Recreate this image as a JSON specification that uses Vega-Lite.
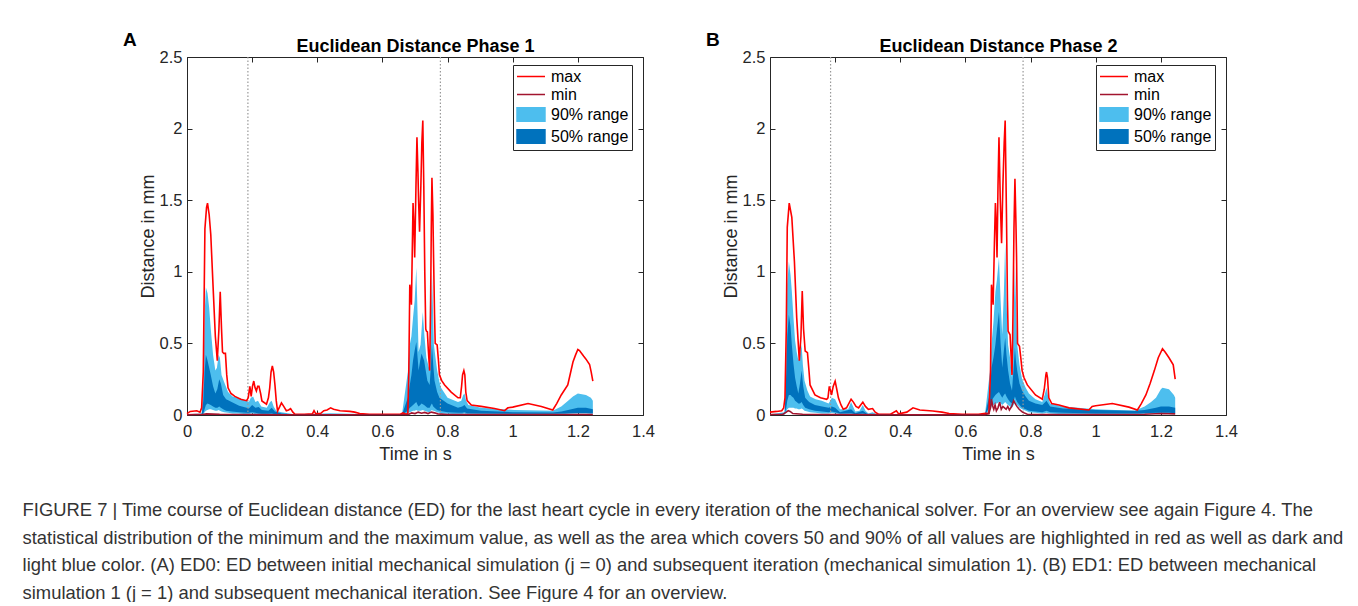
{
"$schema":"https://vega.github.io/schema/vega-lite/v6.json",
"background":"white",
"padding":{"left":22,"top":30,"right":5,"bottom":0},
"title":{"text":["FIGURE 7 | Time course of Euclidean distance (ED) for the last heart cycle in every iteration of the mechanical solver. For an overview see again Figure 4. The","statistical distribution of the minimum and the maximum value, as well as the area which covers 50 and 90% of all values are highlighted in red as well as dark and","light blue color. (A) ED0: ED between initial mechanical simulation (j = 0) and subsequent iteration (mechanical simulation 1). (B) ED1: ED between mechanical","simulation 1 (j = 1) and subsequent mechanical iteration. See Figure 4 for an overview."],"orient":"bottom","anchor":"start","frame":"bounds","dx":-100,"offset":37,"fontSize":18.4,"font":"Liberation Sans","fontWeight":"normal","color":"#333333","lineHeight":27.5},
"datasets":{
"A":[
{"s":"v","t":0.187},{"s":"v","t":0.778},
{"s":"max","t":0,"v":0.01},{"s":"max","t":0.01,"v":0.025},{"s":"max","t":0.03,"v":0.03},{"s":"max","t":0.04,"v":0.02},{"s":"max","t":0.045,"v":0.05},{"s":"max","t":0.05,"v":0.3},{"s":"max","t":0.055,"v":1.3},{"s":"max","t":0.06,"v":1.45},{"s":"max","t":0.063,"v":1.48},{"s":"max","t":0.068,"v":1.4},{"s":"max","t":0.073,"v":1.26},{"s":"max","t":0.08,"v":0.9},{"s":"max","t":0.087,"v":0.55},{"s":"max","t":0.093,"v":0.38},{"s":"max","t":0.098,"v":0.6},{"s":"max","t":0.102,"v":0.86},{"s":"max","t":0.106,"v":0.6},{"s":"max","t":0.109,"v":0.44},{"s":"max","t":0.113,"v":0.43},{"s":"max","t":0.118,"v":0.43},{"s":"max","t":0.122,"v":0.28},{"s":"max","t":0.126,"v":0.19},{"s":"max","t":0.135,"v":0.15},{"s":"max","t":0.147,"v":0.13},{"s":"max","t":0.165,"v":0.11},{"s":"max","t":0.183,"v":0.1},{"s":"max","t":0.188,"v":0.12},{"s":"max","t":0.193,"v":0.2},{"s":"max","t":0.197,"v":0.13},{"s":"max","t":0.201,"v":0.2},{"s":"max","t":0.205,"v":0.237},{"s":"max","t":0.209,"v":0.19},{"s":"max","t":0.213,"v":0.167},{"s":"max","t":0.217,"v":0.2},{"s":"max","t":0.221,"v":0.2},{"s":"max","t":0.226,"v":0.15},{"s":"max","t":0.23,"v":0.098},{"s":"max","t":0.244,"v":0.075},{"s":"max","t":0.25,"v":0.12},{"s":"max","t":0.254,"v":0.19},{"s":"max","t":0.258,"v":0.3},{"s":"max","t":0.262,"v":0.342},{"s":"max","t":0.266,"v":0.3},{"s":"max","t":0.27,"v":0.21},{"s":"max","t":0.274,"v":0.1},{"s":"max","t":0.278,"v":0.027},{"s":"max","t":0.285,"v":0.06},{"s":"max","t":0.29,"v":0.085},{"s":"max","t":0.297,"v":0.06},{"s":"max","t":0.305,"v":0.03},{"s":"max","t":0.312,"v":0.035},{"s":"max","t":0.318,"v":0.045},{"s":"max","t":0.325,"v":0.02},{"s":"max","t":0.331,"v":0.007},{"s":"max","t":0.36,"v":0.005},{"s":"max","t":0.385,"v":0.008},{"s":"max","t":0.39,"v":0.03},{"s":"max","t":0.395,"v":0.01},{"s":"max","t":0.41,"v":0.01},{"s":"max","t":0.42,"v":0.03},{"s":"max","t":0.43,"v":0.035},{"s":"max","t":0.441,"v":0.05},{"s":"max","t":0.45,"v":0.04},{"s":"max","t":0.47,"v":0.03},{"s":"max","t":0.5,"v":0.025},{"s":"max","t":0.515,"v":0.02},{"s":"max","t":0.53,"v":0.01},{"s":"max","t":0.56,"v":0.005},{"s":"max","t":0.62,"v":0.005},{"s":"max","t":0.655,"v":0.005},{"s":"max","t":0.663,"v":0.015},{"s":"max","t":0.672,"v":0.005},{"s":"max","t":0.678,"v":0.01},{"s":"max","t":0.681,"v":0.3},{"s":"max","t":0.684,"v":0.91},{"s":"max","t":0.687,"v":0.85},{"s":"max","t":0.689,"v":0.77},{"s":"max","t":0.692,"v":1.2},{"s":"max","t":0.694,"v":1.48},{"s":"max","t":0.697,"v":1.3},{"s":"max","t":0.699,"v":1.1},{"s":"max","t":0.703,"v":1.6},{"s":"max","t":0.706,"v":1.94},{"s":"max","t":0.709,"v":1.7},{"s":"max","t":0.711,"v":1.5},{"s":"max","t":0.714,"v":1.28},{"s":"max","t":0.718,"v":1.6},{"s":"max","t":0.721,"v":1.9},{"s":"max","t":0.724,"v":2.056},{"s":"max","t":0.727,"v":1.6},{"s":"max","t":0.73,"v":1.0},{"s":"max","t":0.733,"v":0.6},{"s":"max","t":0.735,"v":0.586},{"s":"max","t":0.738,"v":0.58},{"s":"max","t":0.741,"v":0.45},{"s":"max","t":0.745,"v":0.31},{"s":"max","t":0.748,"v":0.8},{"s":"max","t":0.75,"v":1.3},{"s":"max","t":0.752,"v":1.656},{"s":"max","t":0.755,"v":1.4},{"s":"max","t":0.757,"v":1.1},{"s":"max","t":0.76,"v":0.7},{"s":"max","t":0.762,"v":0.5},{"s":"max","t":0.768,"v":0.49},{"s":"max","t":0.772,"v":0.38},{"s":"max","t":0.775,"v":0.28},{"s":"max","t":0.782,"v":0.24},{"s":"max","t":0.791,"v":0.21},{"s":"max","t":0.811,"v":0.16},{"s":"max","t":0.832,"v":0.12},{"s":"max","t":0.839,"v":0.12},{"s":"max","t":0.843,"v":0.2},{"s":"max","t":0.846,"v":0.28},{"s":"max","t":0.85,"v":0.31},{"s":"max","t":0.853,"v":0.28},{"s":"max","t":0.856,"v":0.16},{"s":"max","t":0.86,"v":0.1},{"s":"max","t":0.873,"v":0.07},{"s":"max","t":0.903,"v":0.06},{"s":"max","t":0.944,"v":0.045},{"s":"max","t":0.975,"v":0.03},{"s":"max","t":0.985,"v":0.05},{"s":"max","t":1.0,"v":0.055},{"s":"max","t":1.047,"v":0.08},{"s":"max","t":1.088,"v":0.06},{"s":"max","t":1.123,"v":0.035},{"s":"max","t":1.135,"v":0.08},{"s":"max","t":1.149,"v":0.14},{"s":"max","t":1.169,"v":0.21},{"s":"max","t":1.177,"v":0.29},{"s":"max","t":1.185,"v":0.37},{"s":"max","t":1.193,"v":0.42},{"s":"max","t":1.2,"v":0.458},{"s":"max","t":1.205,"v":0.45},{"s":"max","t":1.21,"v":0.435},{"s":"max","t":1.218,"v":0.41},{"s":"max","t":1.225,"v":0.39},{"s":"max","t":1.236,"v":0.353},{"s":"max","t":1.241,"v":0.3},{"s":"max","t":1.246,"v":0.237},
{"s":"min","t":0,"v":0.002},{"s":"min","t":0.05,"v":0.005},{"s":"min","t":0.06,"v":0.008},{"s":"min","t":0.1,"v":0.005},{"s":"min","t":0.2,"v":0.003},{"s":"min","t":0.3,"v":0.002},{"s":"min","t":0.5,"v":0.002},{"s":"min","t":0.68,"v":0.003},{"s":"min","t":0.69,"v":0.015},{"s":"min","t":0.7,"v":0.01},{"s":"min","t":0.71,"v":0.02},{"s":"min","t":0.72,"v":0.012},{"s":"min","t":0.73,"v":0.018},{"s":"min","t":0.74,"v":0.01},{"s":"min","t":0.75,"v":0.02},{"s":"min","t":0.76,"v":0.015},{"s":"min","t":0.77,"v":0.008},{"s":"min","t":0.8,"v":0.004},{"s":"min","t":1.0,"v":0.003},{"s":"min","t":1.2,"v":0.004},{"s":"min","t":1.246,"v":0.004},
{"s":"90% range","t":0,"lo":0,"hi":0.005},{"s":"90% range","t":0.045,"lo":0,"hi":0.01},{"s":"90% range","t":0.05,"lo":0.005,"hi":0.2},{"s":"90% range","t":0.054,"lo":0.02,"hi":0.7},{"s":"90% range","t":0.058,"lo":0.03,"hi":0.89},{"s":"90% range","t":0.063,"lo":0.035,"hi":0.85},{"s":"90% range","t":0.068,"lo":0.04,"hi":0.75},{"s":"90% range","t":0.073,"lo":0.04,"hi":0.6},{"s":"90% range","t":0.08,"lo":0.035,"hi":0.42},{"s":"90% range","t":0.087,"lo":0.03,"hi":0.31},{"s":"90% range","t":0.092,"lo":0.03,"hi":0.33},{"s":"90% range","t":0.097,"lo":0.035,"hi":0.42},{"s":"90% range","t":0.101,"lo":0.03,"hi":0.4},{"s":"90% range","t":0.106,"lo":0.025,"hi":0.28},{"s":"90% range","t":0.114,"lo":0.02,"hi":0.23},{"s":"90% range","t":0.126,"lo":0.015,"hi":0.16},{"s":"90% range","t":0.14,"lo":0.01,"hi":0.13},{"s":"90% range","t":0.157,"lo":0.01,"hi":0.12},{"s":"90% range","t":0.183,"lo":0.005,"hi":0.1},{"s":"90% range","t":0.19,"lo":0.005,"hi":0.09},{"s":"90% range","t":0.196,"lo":0.01,"hi":0.12},{"s":"90% range","t":0.203,"lo":0.01,"hi":0.13},{"s":"90% range","t":0.21,"lo":0.005,"hi":0.09},{"s":"90% range","t":0.218,"lo":0.005,"hi":0.1},{"s":"90% range","t":0.228,"lo":0.003,"hi":0.06},{"s":"90% range","t":0.245,"lo":0.003,"hi":0.05},{"s":"90% range","t":0.255,"lo":0.005,"hi":0.09},{"s":"90% range","t":0.26,"lo":0.005,"hi":0.1},{"s":"90% range","t":0.266,"lo":0.003,"hi":0.06},{"s":"90% range","t":0.274,"lo":0.002,"hi":0.03},{"s":"90% range","t":0.29,"lo":0.002,"hi":0.02},{"s":"90% range","t":0.3,"lo":0.001,"hi":0.015},{"s":"90% range","t":0.33,"lo":0,"hi":0.005},{"s":"90% range","t":0.39,"lo":0,"hi":0.008},{"s":"90% range","t":0.44,"lo":0,"hi":0.012},{"s":"90% range","t":0.5,"lo":0,"hi":0.008},{"s":"90% range","t":0.66,"lo":0,"hi":0.003},{"s":"90% range","t":0.678,"lo":0.01,"hi":0.3},{"s":"90% range","t":0.684,"lo":0.02,"hi":0.49},{"s":"90% range","t":0.689,"lo":0.025,"hi":0.55},{"s":"90% range","t":0.694,"lo":0.03,"hi":0.68},{"s":"90% range","t":0.699,"lo":0.03,"hi":0.8},{"s":"90% range","t":0.704,"lo":0.035,"hi":1.03},{"s":"90% range","t":0.708,"lo":0.03,"hi":0.7},{"s":"90% range","t":0.711,"lo":0.03,"hi":0.44},{"s":"90% range","t":0.717,"lo":0.03,"hi":0.49},{"s":"90% range","t":0.724,"lo":0.035,"hi":0.72},{"s":"90% range","t":0.729,"lo":0.03,"hi":0.55},{"s":"90% range","t":0.735,"lo":0.025,"hi":0.4},{"s":"90% range","t":0.745,"lo":0.02,"hi":0.31},{"s":"90% range","t":0.749,"lo":0.03,"hi":0.7},{"s":"90% range","t":0.752,"lo":0.035,"hi":1.0},{"s":"90% range","t":0.755,"lo":0.03,"hi":0.75},{"s":"90% range","t":0.758,"lo":0.03,"hi":0.49},{"s":"90% range","t":0.763,"lo":0.025,"hi":0.4},{"s":"90% range","t":0.768,"lo":0.02,"hi":0.31},{"s":"90% range","t":0.775,"lo":0.015,"hi":0.23},{"s":"90% range","t":0.78,"lo":0.01,"hi":0.19},{"s":"90% range","t":0.8,"lo":0.008,"hi":0.12},{"s":"90% range","t":0.832,"lo":0.006,"hi":0.09},{"s":"90% range","t":0.842,"lo":0.006,"hi":0.1},{"s":"90% range","t":0.848,"lo":0.008,"hi":0.14},{"s":"90% range","t":0.852,"lo":0.01,"hi":0.15},{"s":"90% range","t":0.857,"lo":0.006,"hi":0.1},{"s":"90% range","t":0.864,"lo":0.005,"hi":0.07},{"s":"90% range","t":0.903,"lo":0.004,"hi":0.05},{"s":"90% range","t":1.005,"lo":0.003,"hi":0.035},{"s":"90% range","t":1.123,"lo":0.003,"hi":0.03},{"s":"90% range","t":1.149,"lo":0.005,"hi":0.06},{"s":"90% range","t":1.17,"lo":0.008,"hi":0.1},{"s":"90% range","t":1.185,"lo":0.01,"hi":0.13},{"s":"90% range","t":1.2,"lo":0.012,"hi":0.15},{"s":"90% range","t":1.225,"lo":0.012,"hi":0.14},{"s":"90% range","t":1.24,"lo":0.01,"hi":0.12},{"s":"90% range","t":1.246,"lo":0.01,"hi":0.1},
{"s":"50% range","t":0,"lo":0,"hi":0.002},{"s":"50% range","t":0.045,"lo":0.002,"hi":0.005},{"s":"50% range","t":0.05,"lo":0.01,"hi":0.1},{"s":"50% range","t":0.054,"lo":0.04,"hi":0.3},{"s":"50% range","t":0.058,"lo":0.07,"hi":0.42},{"s":"50% range","t":0.063,"lo":0.08,"hi":0.38},{"s":"50% range","t":0.068,"lo":0.075,"hi":0.33},{"s":"50% range","t":0.073,"lo":0.07,"hi":0.28},{"s":"50% range","t":0.08,"lo":0.06,"hi":0.2},{"s":"50% range","t":0.087,"lo":0.05,"hi":0.15},{"s":"50% range","t":0.093,"lo":0.05,"hi":0.18},{"s":"50% range","t":0.099,"lo":0.06,"hi":0.25},{"s":"50% range","t":0.104,"lo":0.05,"hi":0.22},{"s":"50% range","t":0.111,"lo":0.04,"hi":0.14},{"s":"50% range","t":0.12,"lo":0.03,"hi":0.11},{"s":"50% range","t":0.137,"lo":0.025,"hi":0.09},{"s":"50% range","t":0.16,"lo":0.02,"hi":0.065},{"s":"50% range","t":0.183,"lo":0.015,"hi":0.05},{"s":"50% range","t":0.19,"lo":0.015,"hi":0.045},{"s":"50% range","t":0.2,"lo":0.02,"hi":0.07},{"s":"50% range","t":0.21,"lo":0.015,"hi":0.05},{"s":"50% range","t":0.22,"lo":0.01,"hi":0.055},{"s":"50% range","t":0.23,"lo":0.008,"hi":0.035},{"s":"50% range","t":0.25,"lo":0.008,"hi":0.03},{"s":"50% range","t":0.26,"lo":0.01,"hi":0.05},{"s":"50% range","t":0.27,"lo":0.005,"hi":0.025},{"s":"50% range","t":0.29,"lo":0.003,"hi":0.01},{"s":"50% range","t":0.33,"lo":0.001,"hi":0.003},{"s":"50% range","t":0.66,"lo":0.001,"hi":0.002},{"s":"50% range","t":0.678,"lo":0.03,"hi":0.12},{"s":"50% range","t":0.684,"lo":0.05,"hi":0.21},{"s":"50% range","t":0.689,"lo":0.06,"hi":0.28},{"s":"50% range","t":0.694,"lo":0.07,"hi":0.38},{"s":"50% range","t":0.699,"lo":0.08,"hi":0.45},{"s":"50% range","t":0.704,"lo":0.09,"hi":0.51},{"s":"50% range","t":0.708,"lo":0.07,"hi":0.4},{"s":"50% range","t":0.711,"lo":0.06,"hi":0.31},{"s":"50% range","t":0.716,"lo":0.07,"hi":0.38},{"s":"50% range","t":0.72,"lo":0.08,"hi":0.43},{"s":"50% range","t":0.728,"lo":0.07,"hi":0.38},{"s":"50% range","t":0.738,"lo":0.05,"hi":0.24},{"s":"50% range","t":0.745,"lo":0.05,"hi":0.21},{"s":"50% range","t":0.749,"lo":0.07,"hi":0.35},{"s":"50% range","t":0.752,"lo":0.08,"hi":0.49},{"s":"50% range","t":0.756,"lo":0.06,"hi":0.35},{"s":"50% range","t":0.76,"lo":0.05,"hi":0.24},{"s":"50% range","t":0.768,"lo":0.035,"hi":0.16},{"s":"50% range","t":0.775,"lo":0.03,"hi":0.12},{"s":"50% range","t":0.8,"lo":0.02,"hi":0.08},{"s":"50% range","t":0.832,"lo":0.015,"hi":0.05},{"s":"50% range","t":0.845,"lo":0.015,"hi":0.06},{"s":"50% range","t":0.852,"lo":0.02,"hi":0.07},{"s":"50% range","t":0.86,"lo":0.012,"hi":0.045},{"s":"50% range","t":0.903,"lo":0.01,"hi":0.03},{"s":"50% range","t":1.0,"lo":0.008,"hi":0.02},{"s":"50% range","t":1.123,"lo":0.008,"hi":0.018},{"s":"50% range","t":1.15,"lo":0.01,"hi":0.025},{"s":"50% range","t":1.18,"lo":0.012,"hi":0.04},{"s":"50% range","t":1.2,"lo":0.012,"hi":0.05},{"s":"50% range","t":1.225,"lo":0.012,"hi":0.05},{"s":"50% range","t":1.246,"lo":0.01,"hi":0.04}
],
"B":[
{"s":"v","t":0.186},{"s":"v","t":0.777},
{"s":"max","t":0,"v":0.02},{"s":"max","t":0.02,"v":0.025},{"s":"max","t":0.036,"v":0.03},{"s":"max","t":0.042,"v":0.05},{"s":"max","t":0.046,"v":0.12},{"s":"max","t":0.05,"v":0.6},{"s":"max","t":0.053,"v":1.31},{"s":"max","t":0.059,"v":1.48},{"s":"max","t":0.067,"v":1.38},{"s":"max","t":0.075,"v":1.07},{"s":"max","t":0.082,"v":0.68},{"s":"max","t":0.09,"v":0.38},{"s":"max","t":0.095,"v":0.55},{"s":"max","t":0.099,"v":0.865},{"s":"max","t":0.103,"v":0.6},{"s":"max","t":0.108,"v":0.447},{"s":"max","t":0.115,"v":0.435},{"s":"max","t":0.12,"v":0.3},{"s":"max","t":0.123,"v":0.21},{"s":"max","t":0.138,"v":0.14},{"s":"max","t":0.155,"v":0.12},{"s":"max","t":0.174,"v":0.11},{"s":"max","t":0.178,"v":0.12},{"s":"max","t":0.182,"v":0.2},{"s":"max","t":0.186,"v":0.17},{"s":"max","t":0.189,"v":0.14},{"s":"max","t":0.194,"v":0.2},{"s":"max","t":0.2,"v":0.237},{"s":"max","t":0.205,"v":0.18},{"s":"max","t":0.21,"v":0.12},{"s":"max","t":0.218,"v":0.07},{"s":"max","t":0.225,"v":0.04},{"s":"max","t":0.235,"v":0.05},{"s":"max","t":0.249,"v":0.11},{"s":"max","t":0.256,"v":0.09},{"s":"max","t":0.264,"v":0.06},{"s":"max","t":0.272,"v":0.05},{"s":"max","t":0.285,"v":0.09},{"s":"max","t":0.293,"v":0.06},{"s":"max","t":0.302,"v":0.04},{"s":"max","t":0.315,"v":0.045},{"s":"max","t":0.323,"v":0.02},{"s":"max","t":0.333,"v":0.005},{"s":"max","t":0.37,"v":0.005},{"s":"max","t":0.388,"v":0.03},{"s":"max","t":0.395,"v":0.008},{"s":"max","t":0.42,"v":0.02},{"s":"max","t":0.439,"v":0.05},{"s":"max","t":0.46,"v":0.035},{"s":"max","t":0.5,"v":0.028},{"s":"max","t":0.528,"v":0.02},{"s":"max","t":0.55,"v":0.01},{"s":"max","t":0.59,"v":0.005},{"s":"max","t":0.64,"v":0.005},{"s":"max","t":0.662,"v":0.012},{"s":"max","t":0.672,"v":0.01},{"s":"max","t":0.677,"v":0.3},{"s":"max","t":0.68,"v":0.91},{"s":"max","t":0.683,"v":0.85},{"s":"max","t":0.685,"v":0.77},{"s":"max","t":0.689,"v":1.2},{"s":"max","t":0.692,"v":1.48},{"s":"max","t":0.695,"v":1.3},{"s":"max","t":0.697,"v":1.1},{"s":"max","t":0.7,"v":1.6},{"s":"max","t":0.703,"v":1.94},{"s":"max","t":0.707,"v":1.5},{"s":"max","t":0.711,"v":1.2},{"s":"max","t":0.715,"v":1.6},{"s":"max","t":0.719,"v":1.9},{"s":"max","t":0.722,"v":2.056},{"s":"max","t":0.726,"v":1.4},{"s":"max","t":0.729,"v":0.8},{"s":"max","t":0.731,"v":0.586},{"s":"max","t":0.737,"v":0.56},{"s":"max","t":0.743,"v":0.28},{"s":"max","t":0.746,"v":0.7},{"s":"max","t":0.749,"v":1.3},{"s":"max","t":0.752,"v":1.65},{"s":"max","t":0.755,"v":1.35},{"s":"max","t":0.757,"v":1.1},{"s":"max","t":0.76,"v":0.5},{"s":"max","t":0.766,"v":0.48},{"s":"max","t":0.77,"v":0.4},{"s":"max","t":0.774,"v":0.31},{"s":"max","t":0.78,"v":0.26},{"s":"max","t":0.79,"v":0.21},{"s":"max","t":0.815,"v":0.14},{"s":"max","t":0.836,"v":0.11},{"s":"max","t":0.842,"v":0.18},{"s":"max","t":0.847,"v":0.28},{"s":"max","t":0.849,"v":0.3},{"s":"max","t":0.852,"v":0.26},{"s":"max","t":0.856,"v":0.12},{"s":"max","t":0.865,"v":0.08},{"s":"max","t":0.887,"v":0.07},{"s":"max","t":0.918,"v":0.05},{"s":"max","t":0.979,"v":0.035},{"s":"max","t":0.989,"v":0.06},{"s":"max","t":1.0,"v":0.065},{"s":"max","t":1.051,"v":0.08},{"s":"max","t":1.102,"v":0.055},{"s":"max","t":1.128,"v":0.035},{"s":"max","t":1.14,"v":0.08},{"s":"max","t":1.154,"v":0.14},{"s":"max","t":1.167,"v":0.22},{"s":"max","t":1.18,"v":0.31},{"s":"max","t":1.192,"v":0.4},{"s":"max","t":1.205,"v":0.463},{"s":"max","t":1.213,"v":0.44},{"s":"max","t":1.225,"v":0.4},{"s":"max","t":1.238,"v":0.35},{"s":"max","t":1.244,"v":0.25},
{"s":"min","t":0,"v":0.003},{"s":"min","t":0.04,"v":0.005},{"s":"min","t":0.05,"v":0.02},{"s":"min","t":0.056,"v":0.03},{"s":"min","t":0.062,"v":0.025},{"s":"min","t":0.07,"v":0.01},{"s":"min","t":0.1,"v":0.005},{"s":"min","t":0.2,"v":0.003},{"s":"min","t":0.4,"v":0.002},{"s":"min","t":0.66,"v":0.002},{"s":"min","t":0.672,"v":0.01},{"s":"min","t":0.677,"v":0.05},{"s":"min","t":0.68,"v":0.11},{"s":"min","t":0.684,"v":0.06},{"s":"min","t":0.687,"v":0.04},{"s":"min","t":0.691,"v":0.07},{"s":"min","t":0.695,"v":0.03},{"s":"min","t":0.7,"v":0.05},{"s":"min","t":0.705,"v":0.09},{"s":"min","t":0.71,"v":0.04},{"s":"min","t":0.715,"v":0.06},{"s":"min","t":0.72,"v":0.05},{"s":"min","t":0.725,"v":0.04},{"s":"min","t":0.73,"v":0.06},{"s":"min","t":0.735,"v":0.035},{"s":"min","t":0.742,"v":0.06},{"s":"min","t":0.748,"v":0.1},{"s":"min","t":0.753,"v":0.08},{"s":"min","t":0.758,"v":0.06},{"s":"min","t":0.765,"v":0.04},{"s":"min","t":0.775,"v":0.02},{"s":"min","t":0.79,"v":0.005},{"s":"min","t":0.85,"v":0.003},{"s":"min","t":1.0,"v":0.003},{"s":"min","t":1.15,"v":0.005},{"s":"min","t":1.2,"v":0.01},{"s":"min","t":1.244,"v":0.008},
{"s":"90% range","t":0,"lo":0,"hi":0.005},{"s":"90% range","t":0.045,"lo":0.003,"hi":0.02},{"s":"90% range","t":0.05,"lo":0.02,"hi":0.5},{"s":"90% range","t":0.053,"lo":0.04,"hi":0.91},{"s":"90% range","t":0.058,"lo":0.05,"hi":1.07},{"s":"90% range","t":0.063,"lo":0.05,"hi":0.98},{"s":"90% range","t":0.067,"lo":0.05,"hi":0.865},{"s":"90% range","t":0.072,"lo":0.05,"hi":0.68},{"s":"90% range","t":0.077,"lo":0.045,"hi":0.52},{"s":"90% range","t":0.082,"lo":0.045,"hi":0.44},{"s":"90% range","t":0.087,"lo":0.04,"hi":0.38},{"s":"90% range","t":0.092,"lo":0.04,"hi":0.42},{"s":"90% range","t":0.097,"lo":0.045,"hi":0.49},{"s":"90% range","t":0.101,"lo":0.04,"hi":0.35},{"s":"90% range","t":0.106,"lo":0.03,"hi":0.24},{"s":"90% range","t":0.115,"lo":0.025,"hi":0.17},{"s":"90% range","t":0.123,"lo":0.02,"hi":0.13},{"s":"90% range","t":0.14,"lo":0.015,"hi":0.11},{"s":"90% range","t":0.159,"lo":0.01,"hi":0.1},{"s":"90% range","t":0.18,"lo":0.01,"hi":0.08},{"s":"90% range","t":0.185,"lo":0.012,"hi":0.1},{"s":"90% range","t":0.19,"lo":0.015,"hi":0.12},{"s":"90% range","t":0.2,"lo":0.01,"hi":0.11},{"s":"90% range","t":0.208,"lo":0.008,"hi":0.07},{"s":"90% range","t":0.215,"lo":0.005,"hi":0.04},{"s":"90% range","t":0.24,"lo":0.004,"hi":0.04},{"s":"90% range","t":0.249,"lo":0.006,"hi":0.09},{"s":"90% range","t":0.255,"lo":0.005,"hi":0.06},{"s":"90% range","t":0.262,"lo":0.003,"hi":0.025},{"s":"90% range","t":0.275,"lo":0.003,"hi":0.03},{"s":"90% range","t":0.285,"lo":0.005,"hi":0.07},{"s":"90% range","t":0.293,"lo":0.003,"hi":0.03},{"s":"90% range","t":0.302,"lo":0.002,"hi":0.01},{"s":"90% range","t":0.315,"lo":0.002,"hi":0.02},{"s":"90% range","t":0.33,"lo":0,"hi":0.004},{"s":"90% range","t":0.66,"lo":0,"hi":0.003},{"s":"90% range","t":0.675,"lo":0.03,"hi":0.3},{"s":"90% range","t":0.68,"lo":0.06,"hi":0.49},{"s":"90% range","t":0.686,"lo":0.07,"hi":0.65},{"s":"90% range","t":0.692,"lo":0.08,"hi":0.86},{"s":"90% range","t":0.697,"lo":0.08,"hi":0.95},{"s":"90% range","t":0.703,"lo":0.09,"hi":1.1},{"s":"90% range","t":0.708,"lo":0.08,"hi":0.8},{"s":"90% range","t":0.713,"lo":0.07,"hi":0.56},{"s":"90% range","t":0.718,"lo":0.08,"hi":0.85},{"s":"90% range","t":0.722,"lo":0.09,"hi":1.2},{"s":"90% range","t":0.726,"lo":0.08,"hi":0.8},{"s":"90% range","t":0.731,"lo":0.07,"hi":0.49},{"s":"90% range","t":0.737,"lo":0.06,"hi":0.4},{"s":"90% range","t":0.743,"lo":0.05,"hi":0.26},{"s":"90% range","t":0.748,"lo":0.07,"hi":0.7},{"s":"90% range","t":0.752,"lo":0.09,"hi":1.05},{"s":"90% range","t":0.755,"lo":0.08,"hi":0.8},{"s":"90% range","t":0.759,"lo":0.07,"hi":0.49},{"s":"90% range","t":0.766,"lo":0.05,"hi":0.35},{"s":"90% range","t":0.774,"lo":0.04,"hi":0.25},{"s":"90% range","t":0.785,"lo":0.03,"hi":0.19},{"s":"90% range","t":0.795,"lo":0.02,"hi":0.15},{"s":"90% range","t":0.815,"lo":0.015,"hi":0.11},{"s":"90% range","t":0.836,"lo":0.01,"hi":0.09},{"s":"90% range","t":0.843,"lo":0.012,"hi":0.14},{"s":"90% range","t":0.849,"lo":0.015,"hi":0.19},{"s":"90% range","t":0.853,"lo":0.012,"hi":0.14},{"s":"90% range","t":0.86,"lo":0.01,"hi":0.08},{"s":"90% range","t":0.9,"lo":0.006,"hi":0.06},{"s":"90% range","t":1.0,"lo":0.005,"hi":0.04},{"s":"90% range","t":1.12,"lo":0.005,"hi":0.03},{"s":"90% range","t":1.15,"lo":0.008,"hi":0.06},{"s":"90% range","t":1.17,"lo":0.01,"hi":0.09},{"s":"90% range","t":1.185,"lo":0.012,"hi":0.12},{"s":"90% range","t":1.2,"lo":0.015,"hi":0.18},{"s":"90% range","t":1.205,"lo":0.015,"hi":0.19},{"s":"90% range","t":1.225,"lo":0.015,"hi":0.18},{"s":"90% range","t":1.24,"lo":0.012,"hi":0.14},{"s":"90% range","t":1.244,"lo":0.012,"hi":0.12},
{"s":"50% range","t":0,"lo":0,"hi":0.002},{"s":"50% range","t":0.045,"lo":0.005,"hi":0.01},{"s":"50% range","t":0.05,"lo":0.05,"hi":0.3},{"s":"50% range","t":0.053,"lo":0.1,"hi":0.55},{"s":"50% range","t":0.058,"lo":0.14,"hi":0.7},{"s":"50% range","t":0.063,"lo":0.14,"hi":0.62},{"s":"50% range","t":0.067,"lo":0.13,"hi":0.49},{"s":"50% range","t":0.072,"lo":0.12,"hi":0.36},{"s":"50% range","t":0.077,"lo":0.1,"hi":0.26},{"s":"50% range","t":0.082,"lo":0.09,"hi":0.2},{"s":"50% range","t":0.087,"lo":0.08,"hi":0.15},{"s":"50% range","t":0.092,"lo":0.08,"hi":0.22},{"s":"50% range","t":0.097,"lo":0.09,"hi":0.31},{"s":"50% range","t":0.102,"lo":0.07,"hi":0.2},{"s":"50% range","t":0.108,"lo":0.05,"hi":0.12},{"s":"50% range","t":0.12,"lo":0.04,"hi":0.09},{"s":"50% range","t":0.138,"lo":0.03,"hi":0.07},{"s":"50% range","t":0.16,"lo":0.025,"hi":0.06},{"s":"50% range","t":0.18,"lo":0.02,"hi":0.05},{"s":"50% range","t":0.19,"lo":0.025,"hi":0.06},{"s":"50% range","t":0.2,"lo":0.02,"hi":0.05},{"s":"50% range","t":0.215,"lo":0.01,"hi":0.02},{"s":"50% range","t":0.249,"lo":0.012,"hi":0.04},{"s":"50% range","t":0.262,"lo":0.006,"hi":0.012},{"s":"50% range","t":0.285,"lo":0.01,"hi":0.03},{"s":"50% range","t":0.3,"lo":0.003,"hi":0.006},{"s":"50% range","t":0.33,"lo":0.001,"hi":0.002},{"s":"50% range","t":0.66,"lo":0.001,"hi":0.002},{"s":"50% range","t":0.675,"lo":0.06,"hi":0.15},{"s":"50% range","t":0.68,"lo":0.1,"hi":0.33},{"s":"50% range","t":0.686,"lo":0.12,"hi":0.4},{"s":"50% range","t":0.692,"lo":0.14,"hi":0.49},{"s":"50% range","t":0.697,"lo":0.15,"hi":0.6},{"s":"50% range","t":0.703,"lo":0.16,"hi":0.72},{"s":"50% range","t":0.708,"lo":0.14,"hi":0.5},{"s":"50% range","t":0.713,"lo":0.12,"hi":0.33},{"s":"50% range","t":0.718,"lo":0.14,"hi":0.45},{"s":"50% range","t":0.722,"lo":0.15,"hi":0.54},{"s":"50% range","t":0.726,"lo":0.13,"hi":0.42},{"s":"50% range","t":0.731,"lo":0.11,"hi":0.31},{"s":"50% range","t":0.737,"lo":0.09,"hi":0.22},{"s":"50% range","t":0.743,"lo":0.08,"hi":0.17},{"s":"50% range","t":0.748,"lo":0.1,"hi":0.33},{"s":"50% range","t":0.752,"lo":0.13,"hi":0.47},{"s":"50% range","t":0.755,"lo":0.11,"hi":0.38},{"s":"50% range","t":0.759,"lo":0.09,"hi":0.31},{"s":"50% range","t":0.766,"lo":0.07,"hi":0.22},{"s":"50% range","t":0.774,"lo":0.05,"hi":0.17},{"s":"50% range","t":0.785,"lo":0.04,"hi":0.13},{"s":"50% range","t":0.795,"lo":0.03,"hi":0.1},{"s":"50% range","t":0.815,"lo":0.025,"hi":0.08},{"s":"50% range","t":0.836,"lo":0.02,"hi":0.07},{"s":"50% range","t":0.849,"lo":0.03,"hi":0.1},{"s":"50% range","t":0.86,"lo":0.02,"hi":0.06},{"s":"50% range","t":0.9,"lo":0.015,"hi":0.045},{"s":"50% range","t":1.0,"lo":0.01,"hi":0.035},{"s":"50% range","t":1.12,"lo":0.01,"hi":0.03},{"s":"50% range","t":1.15,"lo":0.012,"hi":0.035},{"s":"50% range","t":1.185,"lo":0.015,"hi":0.05},{"s":"50% range","t":1.2,"lo":0.015,"hi":0.06},{"s":"50% range","t":1.225,"lo":0.015,"hi":0.06},{"s":"50% range","t":1.244,"lo":0.012,"hi":0.05}
]
},
"hconcat":[
{
"width":456,"height":358,
"data":{"name":"A"},
"title":{"text":"A","anchor":"start","frame":"bounds","dx":-16,"offset":-12,"fontSize":19,"fontWeight":"bold","font":"Liberation Sans","color":"#000000"},
"layer":[
{"transform":[{"filter":"datum.s==='90% range'"}],"mark":{"type":"area","interpolate":"linear","opacity":1},
"encoding":{
"x":{"field":"t","type":"quantitative","scale":{"domain":[0,1.4],"nice":false},"axis":{"orient":"bottom","values":[0,0.2,0.4,0.6,0.8,1,1.2,1.4],"format":"~g","title":"Time in s","labelPadding":13,"titlePadding":6}},
"y":{"field":"lo","type":"quantitative","stack":null,"scale":{"domain":[0,2.5],"nice":false},"axis":{"orient":"left","values":[0,0.5,1,1.5,2,2.5],"format":"~g","title":"Distance in mm","labelPadding":10,"titlePadding":2}},
"y2":{"field":"hi"},
"color":{"field":"s","type":"nominal","scale":{"domain":["max","min","90% range","50% range"],"range":["#FF0000","#A2142F","#4DBEEE","#0072BD"]},
"legend":{"orient":"none","legendX":326,"legendY":8,"title":null,
"encode":{"symbols":{"update":{
"shape":{"signal":"datum.value === 'max' || datum.value === 'min' ? 'M-1,0H2.73' : 'M-1,-0.889H2.73V0.889H-1Z'"},
"fill":{"signal":"datum.value === '90% range' ? '#4DBEEE' : datum.value === '50% range' ? '#0072BD' : 'transparent'"},
"stroke":{"signal":"datum.value === 'max' ? '#FF0000' : datum.value === 'min' ? '#A2142F' : 'transparent'"},
"strokeWidth":{"value":1.5},"size":{"value":225},"opacity":{"value":1}}}}}}}},
{"transform":[{"filter":"datum.s==='50% range'"}],"mark":{"type":"area","interpolate":"linear","opacity":1},
"encoding":{
"x":{"field":"t","type":"quantitative","axis":{"orient":"top","values":[0,0.2,0.4,0.6,0.8,1,1.2,1.4],"labels":false,"title":"Euclidean Distance Phase 1","titleFontWeight":"bold","titleColor":"#000000","titlePadding":1}},
"y":{"field":"lo","type":"quantitative","stack":null,"axis":{"orient":"right","values":[0,0.5,1,1.5,2,2.5],"labels":false,"title":null}},
"y2":{"field":"hi"},
"color":{"field":"s","type":"nominal"}}},
{"transform":[{"filter":"datum.s==='v'"}],"mark":{"type":"rule","strokeDash":[1.5,2],"color":"#999999","strokeWidth":1.2},
"encoding":{"x":{"field":"t","type":"quantitative","axis":null}}},
{"transform":[{"filter":"datum.s==='max' || datum.s==='min'"}],"mark":{"type":"line","interpolate":"linear","strokeWidth":1.6},
"encoding":{
"x":{"field":"t","type":"quantitative","axis":null},
"y":{"field":"v","type":"quantitative","axis":null},
"color":{"field":"s","type":"nominal"}}}
],
"resolve":{"axis":{"x":"independent","y":"independent"}}
},
{
"width":456,"height":358,
"data":{"name":"B"},
"title":{"text":"B","anchor":"start","frame":"bounds","dx":-16,"offset":-12,"fontSize":19,"fontWeight":"bold","font":"Liberation Sans","color":"#000000"},
"layer":[
{"transform":[{"filter":"datum.s==='90% range'"}],"mark":{"type":"area","interpolate":"linear","opacity":1},
"encoding":{
"x":{"field":"t","type":"quantitative","scale":{"domain":[0,1.4],"nice":false},"axis":{"orient":"bottom","values":[0.2,0.4,0.6,0.8,1,1.2,1.4],"format":"~g","title":"Time in s","labelPadding":13,"titlePadding":6}},
"y":{"field":"lo","type":"quantitative","stack":null,"scale":{"domain":[0,2.5],"nice":false},"axis":{"orient":"left","values":[0,0.5,1,1.5,2,2.5],"format":"~g","title":"Distance in mm","labelPadding":10,"titlePadding":2}},
"y2":{"field":"hi"},
"color":{"field":"s","type":"nominal","scale":{"domain":["max","min","90% range","50% range"],"range":["#FF0000","#A2142F","#4DBEEE","#0072BD"]},
"legend":{"orient":"none","legendX":326,"legendY":8,"title":null,
"encode":{"symbols":{"update":{
"shape":{"signal":"datum.value === 'max' || datum.value === 'min' ? 'M-1,0H2.73' : 'M-1,-0.889H2.73V0.889H-1Z'"},
"fill":{"signal":"datum.value === '90% range' ? '#4DBEEE' : datum.value === '50% range' ? '#0072BD' : 'transparent'"},
"stroke":{"signal":"datum.value === 'max' ? '#FF0000' : datum.value === 'min' ? '#A2142F' : 'transparent'"},
"strokeWidth":{"value":1.5},"size":{"value":225},"opacity":{"value":1}}}}}}}},
{"transform":[{"filter":"datum.s==='50% range'"}],"mark":{"type":"area","interpolate":"linear","opacity":1},
"encoding":{
"x":{"field":"t","type":"quantitative","axis":{"orient":"top","values":[0.2,0.4,0.6,0.8,1,1.2,1.4],"labels":false,"title":"Euclidean Distance Phase 2","titleFontWeight":"bold","titleColor":"#000000","titlePadding":1}},
"y":{"field":"lo","type":"quantitative","stack":null,"axis":{"orient":"right","values":[0,0.5,1,1.5,2,2.5],"labels":false,"title":null}},
"y2":{"field":"hi"},
"color":{"field":"s","type":"nominal"}}},
{"transform":[{"filter":"datum.s==='v'"}],"mark":{"type":"rule","strokeDash":[1.5,2],"color":"#999999","strokeWidth":1.2},
"encoding":{"x":{"field":"t","type":"quantitative","axis":null}}},
{"transform":[{"filter":"datum.s==='max' || datum.s==='min'"}],"mark":{"type":"line","interpolate":"linear","strokeWidth":1.6},
"encoding":{
"x":{"field":"t","type":"quantitative","axis":null},
"y":{"field":"v","type":"quantitative","axis":null},
"color":{"field":"s","type":"nominal"}}}
],
"resolve":{"axis":{"x":"independent","y":"independent"}}
}
],
"spacing":50,
"resolve":{"scale":{"color":"independent","x":"independent","y":"independent"}},
"config":{
"font":"Liberation Sans",
"view":{"stroke":"#262626","strokeWidth":1},
"axis":{"grid":false,"domain":false,"tickColor":"#262626","tickSize":-5,"tickWidth":1,"labelColor":"#262626","labelFontSize":16.5,"labelFont":"Liberation Sans","labelFlush":false,"labelOverlap":false,"labelBound":false,"titleFont":"Liberation Sans","titleFontSize":18,"titleFontWeight":"normal","titleColor":"#262626"},
"legend":{"strokeColor":"#262626","fillColor":"#ffffff","padding":3,"labelFontSize":16,"labelFont":"Liberation Sans","labelColor":"#000000","symbolSize":225,"symbolStrokeWidth":1.5,"labelOffset":18,"rowPadding":1,"symbolOpacity":1,"cornerRadius":0}
}
}
